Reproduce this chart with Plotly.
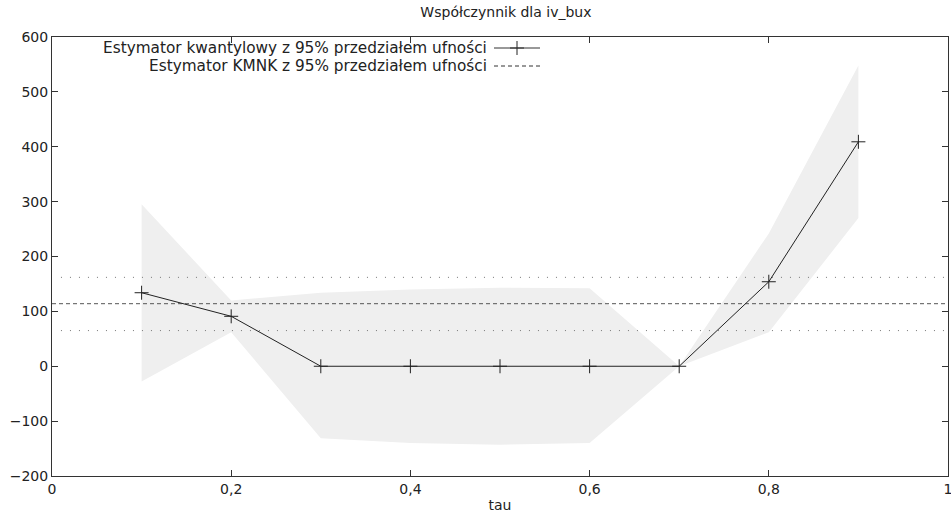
import plotly.graph_objects as go

tau = [0.1, 0.2, 0.3, 0.4, 0.5, 0.6, 0.7, 0.8, 0.9]
coef = [134, 91, 0, 0, 0, 0, 0, 154, 409]
upper = [295, 120, 134, 140, 143, 142, 0, 242, 548]
lower = [-28, 62, -131, -140, -143, -140, 0, 62, 270]
ols = 114
ols_lo = 65
ols_hi = 162
x_ticks = [0, 0.2, 0.4, 0.6, 0.8, 1]
x_labels = ["0", "0,2", "0,4", "0,6", "0,8", "1"]
y_ticks = [-200, -100, 0, 100, 200, 300, 400, 500, 600]
y_labels = ["\u2212200", "\u2212100", "0", "100", "200", "300", "400", "500", "600"]

FONT = "DejaVu Sans"
fig = go.Figure()
fig.add_trace(go.Scatter(x=tau + tau[::-1], y=upper + lower[::-1], fill="toself",
                         fillcolor="#efefef", line=dict(width=0), mode="lines",
                         hoverinfo="skip", showlegend=False))
fig.add_trace(go.Scatter(x=[0, 1], y=[ols, ols], mode="lines",
                         line=dict(color="#555555", width=1, dash="4px,3px"), showlegend=False))
for v in (ols_lo, ols_hi):
    fig.add_trace(go.Scatter(x=[0.01, 1], y=[v, v], mode="lines",
                             line=dict(color="#777777", width=1, dash="1px,8px"), showlegend=False))
fig.add_trace(go.Scatter(x=tau, y=coef, mode="lines+markers",
                         line=dict(color="#222222", width=1),
                         marker=dict(symbol="cross-thin", size=10, line=dict(color="#222222", width=1)),
                         showlegend=False))

fig.update_layout(
    width=951, height=518,
    margin=dict(l=52, r=3, t=37, b=42),
    paper_bgcolor="white", plot_bgcolor="white",
    font=dict(family=FONT, size=14, color="#222222"),
    title=dict(text="Współczynnik dla iv_bux", x=0.532, xanchor="center", y=0.977, yanchor="middle",
               font=dict(size=14, family=FONT)),
    xaxis=dict(range=[0, 1], tickvals=x_ticks, ticktext=x_labels, ticks="inside", ticklen=6,
               tickcolor="#333", showline=True, linecolor="#333", linewidth=1, mirror="allticks",
               showgrid=False, zeroline=False, ticklabeloverflow="allow", automargin=False,
               tickfont=dict(size=14),
               title=dict(text="tau", font=dict(size=14), standoff=4)),
    yaxis=dict(range=[-200, 600], tickvals=y_ticks, ticktext=y_labels, ticks="inside", ticklen=6,
               tickcolor="#333", showline=True, linecolor="#333", linewidth=1, mirror="allticks",
               showgrid=False, zeroline=False, ticklabeloverflow="allow", automargin=False,
               tickfont=dict(size=14)),
)

# gnuplot-style legend: text on the left, sample on the right
legend_rows = [("Estymator kwantylowy z 95% przedziałem ufności", "solid"),
               ("Estymator KMNK z 95% przedziałem ufności", "dash")]
for i, (txt, style) in enumerate(legend_rows):
    ypix = 48 + i * 18
    yp = 1 - (ypix - 37) / (518 - 37 - 42)
    fig.add_annotation(xref="paper", yref="paper", x=(489 - 52) / 896, y=yp, text=txt,
                       showarrow=False, xanchor="right", yanchor="middle",
                       font=dict(size=15.3, family=FONT, color="#222222"))
    x0 = (494 - 52) / 896
    x1 = (540 - 52) / 896
    fig.add_shape(type="line", xref="paper", yref="paper", x0=x0, x1=x1, y0=yp, y1=yp,
                  line=dict(color="#333333", width=1, dash="solid" if style == "solid" else "4px,3px"))
    if style == "solid":
        fig.add_trace(go.Scatter(x=[(x0 + x1) / 2], y=[yp], xaxis="x2", yaxis="y2", mode="markers",
                                 marker=dict(symbol="cross-thin", size=10, line=dict(color="#222222", width=1)),
                                 showlegend=False, hoverinfo="skip"))
fig.update_layout(xaxis2=dict(range=[0, 1], domain=[0, 1], visible=False, overlaying="x"),
                  yaxis2=dict(range=[0, 1], domain=[0, 1], visible=False, overlaying="y"))

fig.write_html("out.html")
